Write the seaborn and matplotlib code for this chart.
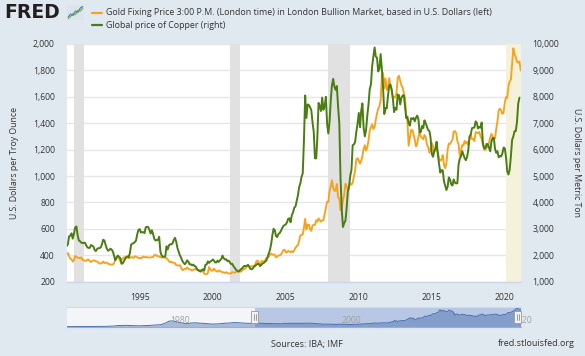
import numpy as np
import pandas as pd
import matplotlib
matplotlib.use("Agg")
import matplotlib.pyplot as plt
import matplotlib.dates as mdates
from matplotlib.ticker import FuncFormatter
from matplotlib.lines import Line2D
from matplotlib.patches import Rectangle
import matplotlib.transforms as mtransforms
import seaborn as sns

# ---------------- data (monthly, starting Jan 1990) ----------------
gold = [
    410, 417, 393, 374, 369, 352, 362, 395, 389, 381, 381, 378,   # 1990
    384, 364, 364, 358, 357, 367, 368, 356, 349, 359, 360, 361,   # 1991
    354, 354, 345, 338, 337, 341, 353, 341, 345, 344, 335, 334,   # 1992
    329, 330, 330, 342, 367, 372, 392, 379, 355, 365, 374, 383,   # 1993
    387, 382, 384, 378, 381, 386, 385, 380, 392, 390, 384, 380,   # 1994
    379, 377, 382, 391, 385, 387, 386, 383, 383, 383, 386, 387,   # 1995
    400, 405, 396, 393, 392, 385, 383, 387, 383, 381, 378, 369,   # 1996
    355, 347, 352, 344, 344, 341, 324, 324, 323, 325, 306, 289,   # 1997
    289, 297, 296, 308, 299, 292, 293, 284, 289, 296, 294, 291,   # 1998
    287, 288, 286, 282, 277, 262, 256, 257, 265, 311, 293, 283,   # 1999
    285, 300, 286, 280, 275, 285, 282, 274, 273, 270, 266, 272,   # 2000
    266, 262, 263, 261, 272, 270, 268, 273, 283, 283, 276, 276,   # 2001
    282, 296, 294, 303, 314, 322, 314, 310, 319, 317, 319, 333,   # 2002
    356, 359, 340, 328, 355, 356, 351, 360, 379, 379, 389, 407,   # 2003
    413, 405, 406, 404, 384, 392, 398, 400, 405, 420, 439, 442,   # 2004
    424, 423, 434, 429, 422, 431, 424, 438, 456, 470, 476, 510,   # 2005
    549, 555, 557, 610, 676, 596, 633, 632, 598, 585, 627, 629,   # 2006
    631, 665, 655, 679, 667, 655, 665, 665, 712, 754, 806, 803,   # 2007
    889, 922, 968, 909, 888, 890, 940, 839, 830, 740, 760, 816,   # 2008
    858, 942, 924, 890, 928, 946, 934, 949, 996, 1043, 1128, 1135,  # 2009
    1117, 1095, 1113, 1149, 1205, 1233, 1193, 1215, 1271, 1343, 1370, 1391,  # 2010
    1356, 1372, 1424, 1474, 1510, 1529, 1572, 1756, 1780, 1665, 1739, 1652,  # 2011
    1656, 1742, 1674, 1650, 1586, 1598, 1594, 1630, 1745, 1760, 1721, 1688,  # 2012
    1671, 1627, 1593, 1450, 1415, 1230, 1286, 1348, 1349, 1316, 1275, 1225,  # 2013
    1244, 1300, 1337, 1299, 1289, 1279, 1311, 1296, 1239, 1222, 1176, 1201,  # 2014
    1251, 1227, 1179, 1199, 1199, 1182, 1130, 1117, 1125, 1159, 1086, 1060,  # 2015
    1097, 1200, 1246, 1243, 1260, 1276, 1337, 1341, 1326, 1266, 1238, 1152,  # 2016
    1192, 1234, 1231, 1266, 1246, 1260, 1236, 1283, 1315, 1280, 1280, 1265,  # 2017
    1331, 1331, 1325, 1335, 1303, 1282, 1239, 1202, 1198, 1215, 1221, 1250,  # 2018
    1291, 1320, 1300, 1285, 1284, 1359, 1413, 1500, 1511, 1495, 1471, 1480,  # 2019
    1560, 1597, 1592, 1683, 1716, 1732, 1847, 1968, 1922, 1900, 1866, 1858,  # 2020
    1867, 1800,                                                             # 2021
]

copper = [
    2350, 2420, 2720, 2740, 2830, 2630, 2820, 3050, 3090, 2760, 2560, 2530,  # 1990
    2480, 2460, 2470, 2480, 2395, 2300, 2280, 2280, 2390, 2360, 2330, 2200,  # 1991
    2160, 2240, 2270, 2270, 2300, 2420, 2590, 2560, 2390, 2250, 2170, 2200,  # 1992
    2250, 2210, 2140, 1970, 1810, 1920, 1990, 1940, 1900, 1680, 1690, 1780,  # 1993
    1860, 1930, 1960, 1930, 2090, 2410, 2440, 2460, 2500, 2560, 2800, 2960,  # 1994
    2990, 2860, 2880, 2870, 2840, 3060, 3080, 3070, 2960, 2820, 2950, 2810,  # 1995
    2620, 2560, 2580, 2580, 2700, 2140, 2000, 1940, 1950, 1960, 2340, 2220,  # 1996
    2380, 2420, 2410, 2450, 2580, 2660, 2520, 2280, 2140, 2000, 1910, 1790,  # 1997
    1720, 1660, 1710, 1810, 1760, 1660, 1660, 1620, 1650, 1590, 1580, 1480,  # 1998
    1430, 1410, 1380, 1440, 1470, 1420, 1640, 1650, 1770, 1710, 1760, 1790,  # 1999
    1840, 1800, 1730, 1730, 1800, 1750, 1810, 1860, 1990, 1890, 1840, 1850,  # 2000
    1780, 1800, 1740, 1670, 1680, 1590, 1530, 1460, 1420, 1380, 1410, 1470,  # 2001
    1500, 1560, 1600, 1590, 1600, 1640, 1570, 1480, 1470, 1500, 1580, 1600,  # 2002
    1650, 1680, 1660, 1590, 1640, 1690, 1710, 1760, 1790, 1920, 2060, 2200,  # 2003
    2420, 2760, 3000, 2950, 2730, 2690, 2810, 2840, 2920, 3020, 3110, 3140,  # 2004
    3170, 3250, 3380, 3400, 3250, 3520, 3620, 3800, 3850, 4050, 4270, 4580,  # 2005
    4730, 4980, 5100, 6390, 8050, 7200, 7710, 7690, 7600, 7500, 7030, 6680,  # 2006
    5670, 5670, 6450, 7770, 7650, 7460, 7970, 7510, 7650, 8000, 6970, 6610,  # 2007
    7060, 7890, 8440, 8680, 8380, 8260, 8410, 7630, 6990, 4930, 3720, 3070,  # 2008
    3220, 3310, 3750, 4410, 4570, 5010, 5220, 6170, 6200, 6290, 6680, 6980,  # 2009
    7390, 6850, 7460, 7750, 6840, 6500, 6740, 7280, 7710, 8290, 8470, 9150,  # 2010
    9530, 9870, 9530, 9480, 8960, 9070, 9620, 9040, 8310, 7350, 7580, 7560,  # 2011
    8040, 8440, 8470, 8290, 7960, 7420, 7580, 7510, 8090, 8060, 7710, 7960,  # 2012
    8050, 8060, 7650, 7200, 7250, 7000, 6910, 7190, 7160, 7200, 7070, 7210,  # 2013
    7290, 7150, 6650, 6670, 6890, 6820, 7110, 7000, 6870, 6740, 6710, 6450,  # 2014
    5830, 5730, 5940, 6040, 6300, 5830, 5460, 5130, 5220, 5220, 4800, 4640,  # 2015
    4470, 4600, 4950, 4870, 4690, 4640, 4870, 4750, 4720, 4730, 5450, 5660,  # 2016
    5750, 5940, 5820, 5680, 5600, 5720, 5980, 6490, 6580, 6810, 6830, 6840,  # 2017
    7070, 7000, 6800, 6860, 6830, 7030, 6250, 6050, 6050, 6220, 6200, 6070,  # 2018
    5940, 6310, 6440, 6440, 6030, 5880, 5940, 5710, 5760, 5740, 5860, 6080,  # 2019
    6050, 5690, 5180, 5060, 5240, 5760, 6370, 6500, 6700, 6700, 7060, 7750,  # 2020
    7970,                                                                    # 2021
]

# navigator history of gold before 1990 (half-yearly, from Jan 1968)
gold_history = [
    38, 40, 43, 38, 35, 37, 39, 42, 49, 65, 80, 100, 150, 165, 175, 145,
    130, 120, 145, 155, 180, 210, 240, 390, 620, 630, 500, 430, 340, 410,
    440, 400, 380, 345, 300, 325, 340, 400, 410, 460, 450, 420, 390, 380,
]

recessions = [("1990-07-01", "1991-03-01"),
              ("2001-03-01", "2001-11-01"),
              ("2007-12-01", "2009-06-01")]
latest_recession = ("2020-02-01", "2021-02-01")

left_ticks = [200, 400, 600, 800, 1000, 1200, 1400, 1600, 1800, 2000]
right_ticks = [1000, 2000, 3000, 4000, 5000, 6000, 7000, 8000, 9000, 10000]
year_ticks = [1995, 2000, 2005, 2010, 2015, 2020]
nav_years = [1980, 2000, 2020]

gold_label = ("Gold Fixing Price 3:00 P.M. (London time) in London Bullion Market, "
              "based in U.S. Dollars (left)")
copper_label = "Global price of Copper (right)"
left_title = "U.S. Dollars per Troy Ounce"
right_title = "U.S. Dollars per Metric Ton"

# ---------------- style ----------------
GOLD = "#f9a11b"
GREEN = "#4a7d12"
BG = "#e1e9f0"
TXT = "#333333"

sns.set_style("white")
plt.rcParams["font.family"] = ["Open Sans", "DejaVu Sans"]

W, H = 585, 356
fig = plt.figure(figsize=(W / 100, H / 100), dpi=100, facecolor=BG)


def fx(px):
    return px / W


def fy(py):
    return 1 - py / H


L, R, T, B = 66.7, 520.7, 44.0, 281.7
ax = fig.add_axes([fx(L), fy(B), fx(R - L), (B - T) / H])
ax.set_facecolor("white")

df_gold = pd.DataFrame({"date": pd.date_range("1990-01-01", periods=len(gold), freq="MS"),
                        "value": gold})
df_cu = pd.DataFrame({"date": pd.date_range("1990-01-01", periods=len(copper), freq="MS"),
                      "value": copper})

x0, x1 = pd.Timestamp("1990-01-01"), pd.Timestamp("2021-02-01")

for s, e in recessions:
    ax.axvspan(pd.Timestamp(s), pd.Timestamp(e), color="#e1e1e1", lw=0, zorder=1)
ax.axvspan(pd.Timestamp(latest_recession[0]), pd.Timestamp(latest_recession[1]),
           color="#f4f2da", lw=0, zorder=1)

sns.lineplot(data=df_gold, x="date", y="value", ax=ax, color=GOLD, lw=1.35, zorder=3)
ax.set_xlim(x0, x1)
ax.set_ylim(200, 2000)
ax.set_yticks(left_ticks)
ax.yaxis.set_major_formatter(FuncFormatter(lambda v, p: f"{v:,.0f}"))
ax.set_axisbelow(True)
ax.grid(axis="y", color="#e6e6e6", lw=1.0, zorder=0)
ax.grid(axis="x", visible=False)
ax.set_xticks([pd.Timestamp(f"{y}-01-01") for y in year_ticks])
ax.set_xticklabels([str(y) for y in year_ticks])
ax.tick_params(axis="x", length=5, width=1, color="#ccd6eb", labelsize=6.2,
               labelcolor=TXT, pad=3)
ax.tick_params(axis="y", length=0, labelsize=6.2, labelcolor=TXT, pad=8.5)
for side in ["top", "left", "right"]:
    ax.spines[side].set_visible(False)
ax.spines["bottom"].set_color("#ccd6eb")
ax.spines["bottom"].set_linewidth(1)
ax.set_xlabel("")
ax.set_ylabel("")

ax2 = ax.twinx()
sns.lineplot(data=df_cu, x="date", y="value", ax=ax2, color=GREEN, lw=1.4, zorder=3)
ax2.set_xlim(x0, x1)
ax2.set_ylim(1000, 10000)
ax2.set_yticks(right_ticks)
ax2.yaxis.set_major_formatter(FuncFormatter(lambda v, p: f"{v:,.0f}"))
ax2.tick_params(axis="y", length=0, labelsize=6.2, labelcolor=TXT, pad=8.5)
ax2.grid(False)
for side in ["top", "left", "right", "bottom"]:
    ax2.spines[side].set_visible(False)
ax2.set_xlabel("")
ax2.set_ylabel("")

# axis titles
fig.text(fx(15), fy((T + B) / 2), left_title, rotation=90, ha="center", va="center",
         fontsize=6.3, color=TXT)
fig.text(fx(577), fy((T + B) / 2), right_title, rotation=270, ha="center", va="center",
         fontsize=6.3, color=TXT)

# ---------------- header: logo + legend ----------------
fig.text(fx(4), fy(12.6), "FRED", fontsize=13.5, fontweight="bold", family="DejaVu Sans",
         color="#231f20", ha="left", va="center")
icon = fig.add_axes([fx(67), fy(20), fx(17), 15 / H])
icon.set_facecolor("#dde3e8")
icon_x = [0, 1, 2, 3, 4, 5, 6]
icon.plot(icon_x, [1, 2, 1.5, 3, 2.5, 4, 4.5], color="#3d7ab8", lw=0.8)
icon.plot(icon_x, [0.5, 1.2, 2.2, 1.8, 3.3, 3.0, 4.0], color="#6aa84f", lw=0.8)
icon.set_xlim(-0.5, 6.5)
icon.set_ylim(0, 5)
icon.set_xticks([])
icon.set_yticks([])
for sp in icon.spines.values():
    sp.set_visible(False)

for yy, col, lab in [(12.8, GOLD, gold_label), (25.0, GREEN, copper_label)]:
    fig.add_artist(Line2D([fx(92), fx(102)], [fy(yy), fy(yy)], color=col, lw=1.6))
    fig.text(fx(106.5), fy(yy), lab, fontsize=6.4, color=TXT, ha="left", va="center")

# ---------------- navigator ----------------
NT, NB = 307.0, 327.0
nav = fig.add_axes([fx(L), fy(NB), fx(R - L), (NB - NT) / H])
nav.set_facecolor("#f3f5f8")
hist_dates = pd.date_range("1968-01-01", periods=len(gold_history), freq="6MS")
df_nav = pd.concat([pd.DataFrame({"date": hist_dates, "value": gold_history}), df_gold],
                   ignore_index=True)
nav_x0 = pd.Timestamp("1968-01-01")
nav.axvspan(x0, x1, color="#b8c7e3", lw=0, zorder=0.5)
nav.fill_between(df_nav["date"], 0, df_nav["value"], color="#3e66ab", alpha=0.42,
                 lw=0, zorder=1)
sns.lineplot(data=df_nav, x="date", y="value", ax=nav, color="#4a6fae", lw=0.7, zorder=2)
nav.set_xlim(nav_x0, x1)
nav.set_ylim(0, 2080)
nav.set_xticks([])
nav.set_yticks([])
nav.set_xlabel("")
nav.set_ylabel("")
for side in ["left", "right"]:
    nav.spines[side].set_visible(False)
nav.spines["top"].set_color("#d6dbe2")
nav.spines["top"].set_linewidth(0.8)
nav.spines["bottom"].set_color("#99aed3")
nav.spines["bottom"].set_linewidth(0.8)
for y in nav_years:
    nav.text(pd.Timestamp(f"{y}-01-01") + pd.Timedelta(days=40), 0.32, str(y),
             transform=mtransforms.blended_transform_factory(nav.transData, nav.transAxes),
             fontsize=6.2, color="#a0a0a0", ha="left", va="center", zorder=3)
# handles
blend = mtransforms.blended_transform_factory(nav.transData, nav.transAxes)
for hx in [x0, x1 - pd.Timedelta(days=120)]:
    hd = mdates.date2num(hx)
    nav.add_patch(Rectangle((hd - 150, 0.18), 300, 0.64, transform=blend,
                            facecolor="#f2f2f2", edgecolor="#999999", lw=0.6,
                            zorder=4, clip_on=False))
    for off in (-50, 50):
        nav.add_artist(Line2D([hd + off, hd + off], [0.33, 0.67], transform=blend,
                              color="#777777", lw=0.5, zorder=5))

# ---------------- footer ----------------
fig.text(fx(307), fy(344), "Sources: IBA; IMF", fontsize=6.5, color=TXT,
         ha="center", va="center")
fig.text(fx(575), fy(344), "fred.stlouisfed.org", fontsize=6.5, color=TXT,
         ha="right", va="center")

fig.savefig("out.png", dpi=100, facecolor=BG)
